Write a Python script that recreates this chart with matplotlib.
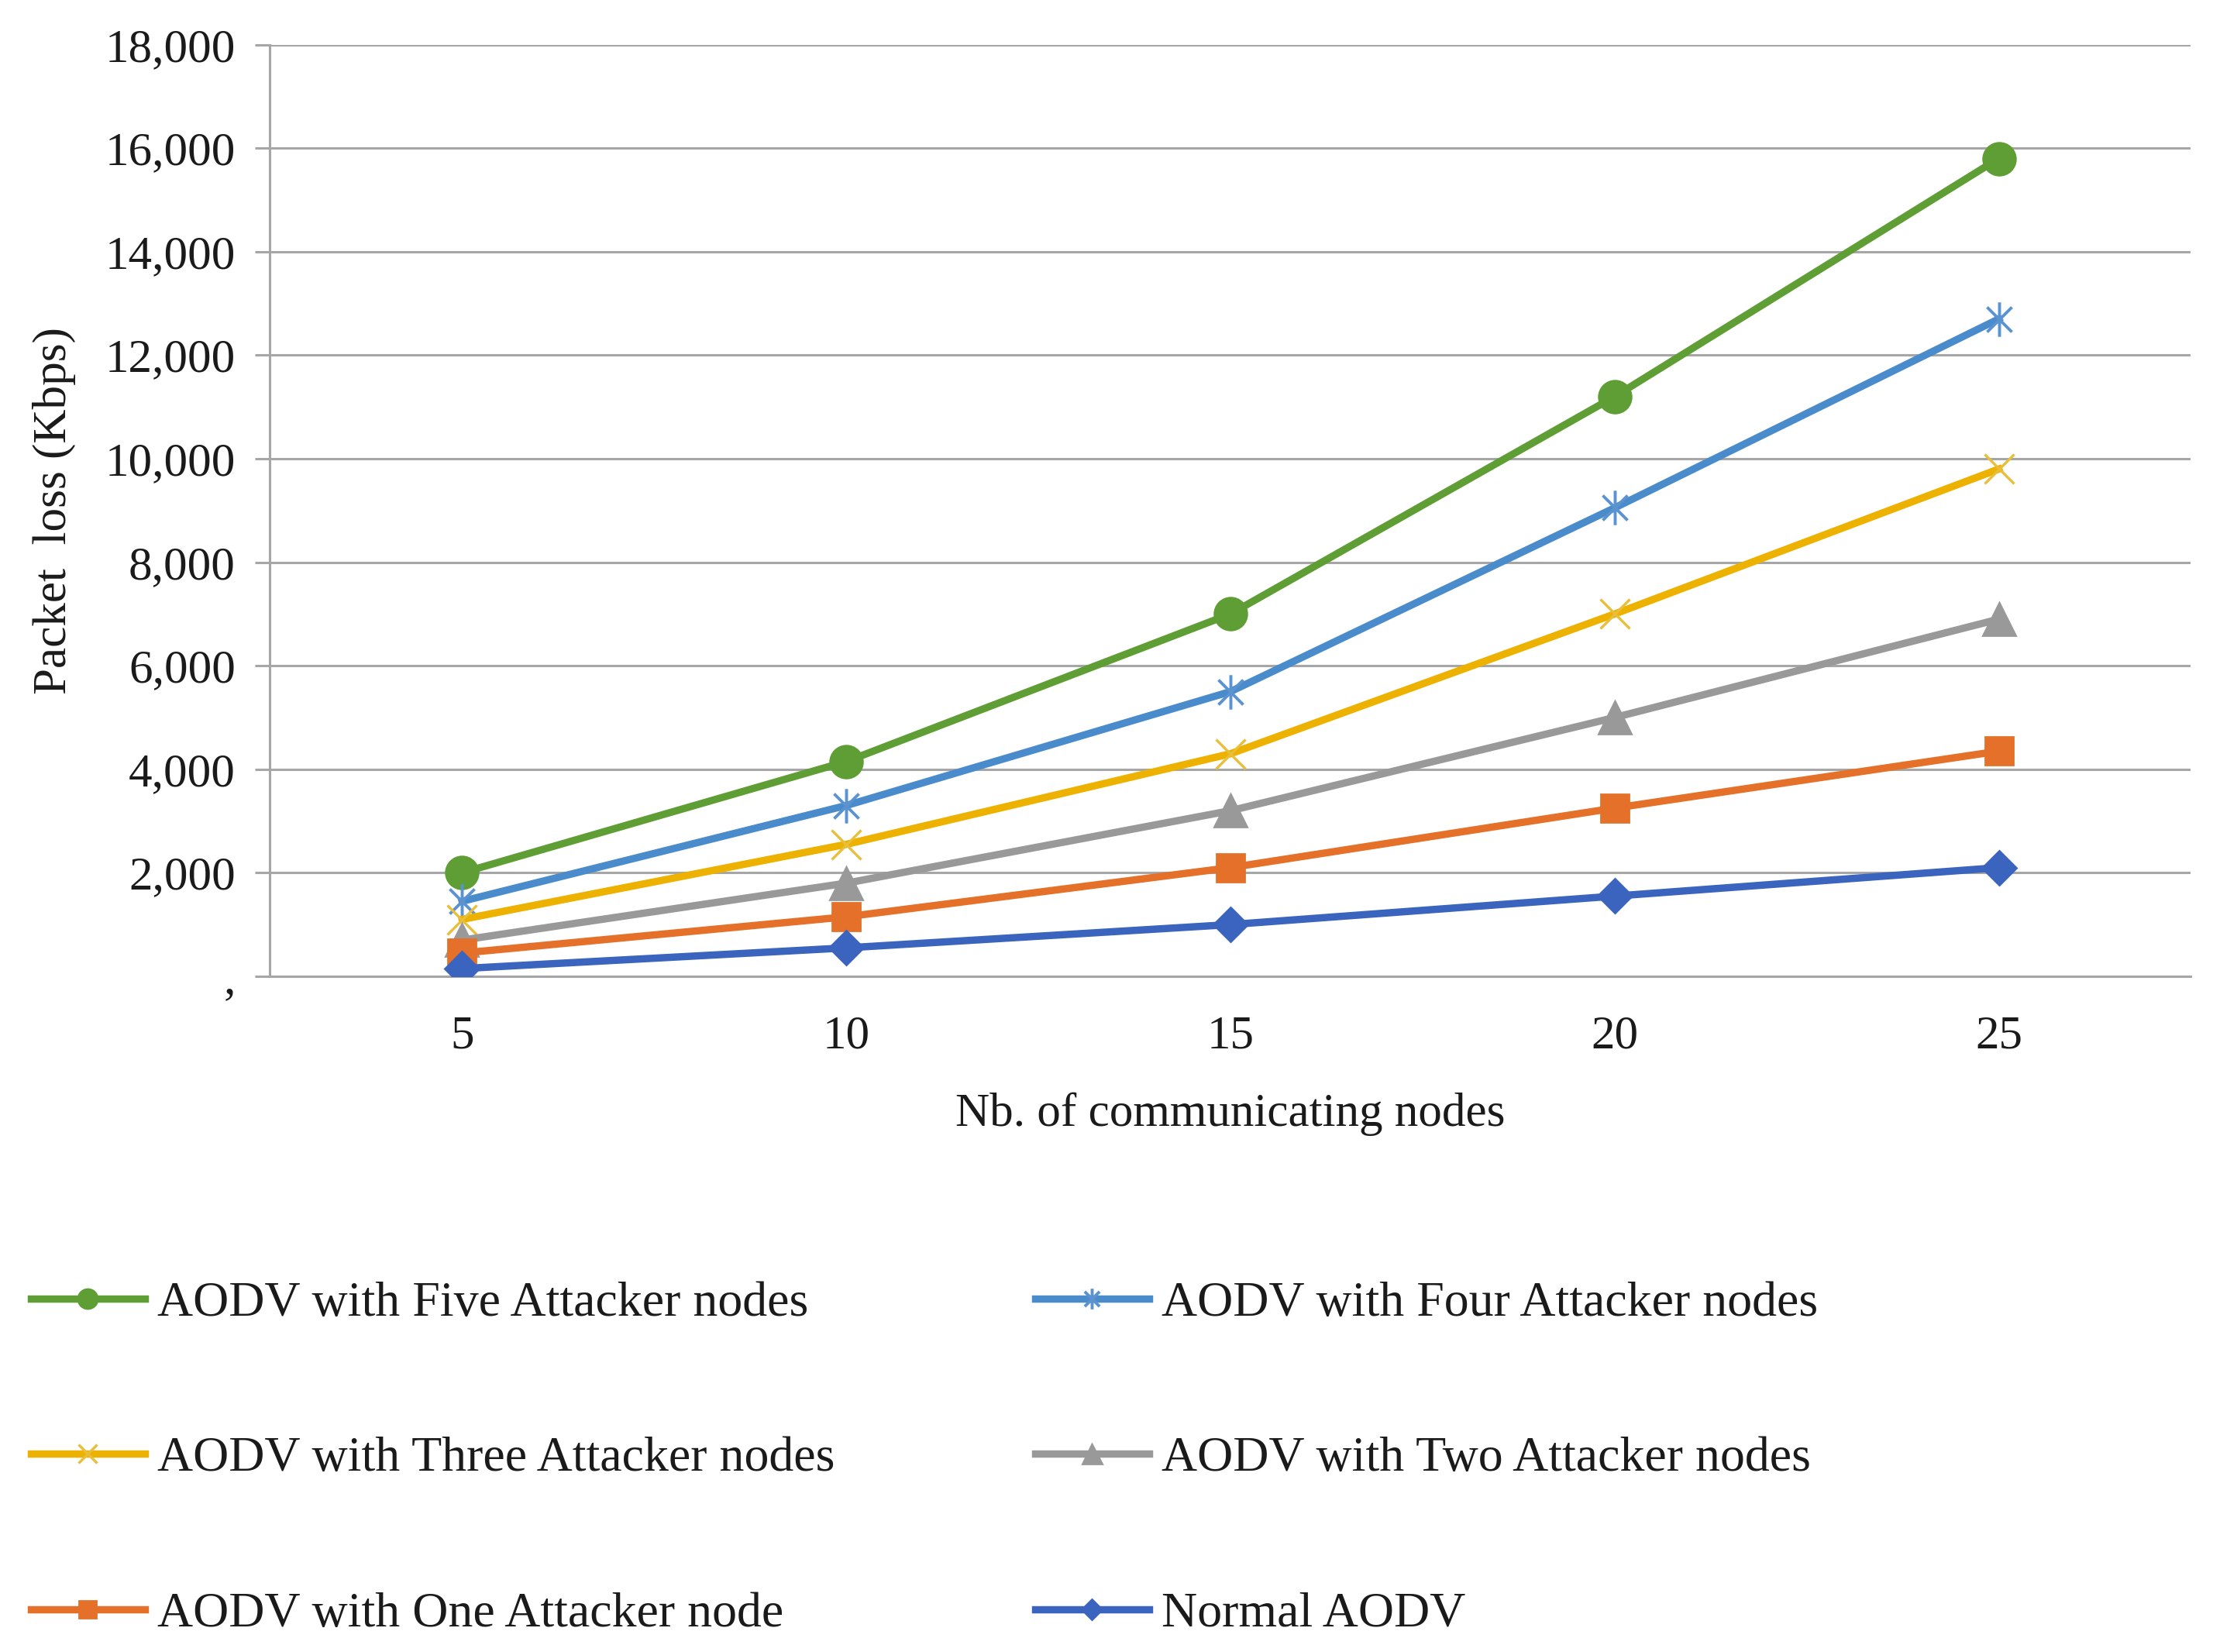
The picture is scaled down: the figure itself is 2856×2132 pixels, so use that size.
import matplotlib
matplotlib.use("Agg")
import matplotlib.pyplot as plt
from matplotlib.path import Path
from matplotlib.lines import Line2D
import numpy as np

# ---- data ----
nodes = [5, 10, 15, 20, 25]
five_attackers = [2000, 4150, 7000, 11200, 15800]
four_attackers = [1450, 3300, 5500, 9050, 12700]
three_attackers = [1100, 2550, 4300, 7000, 9800]
two_attackers = [700, 1800, 3200, 5000, 6900]
one_attacker = [450, 1150, 2100, 3250, 4350]
normal_aodv = [150, 550, 1000, 1550, 2100]

labels = ["AODV with Five Attacker nodes", "AODV with Four Attacker nodes",
          "AODV with Three Attacker nodes", "AODV with Two Attacker nodes",
          "AODV with One Attacker node", "Normal AODV"]
y_ticks = [0, 2000, 4000, 6000, 8000, 10000, 12000, 14000, 16000, 18000]
y_tick_labels = [",", "2,000", "4,000", "6,000", "8,000", "10,000", "12,000",
                 "14,000", "16,000", "18,000"]
x_label = "Nb. of communicating nodes"
y_label = "Packet  loss (Kbps)"

plt.rcParams['font.family'] = ['Liberation Serif', 'DejaVu Serif']

fig = plt.figure(figsize=(14.28, 10.66), dpi=200)
ax = fig.add_axes([0.122, 0.409, 0.868, 0.564])

star_path = Path(
    [(0, -1), (0, 1), (-0.72, -0.72), (0.72, 0.72), (-0.72, 0.72), (0.72, -0.72)],
    [Path.MOVETO, Path.LINETO, Path.MOVETO, Path.LINETO, Path.MOVETO, Path.LINETO])

lw = 3.4
series = [
    (five_attackers, dict(color="#5F9E34", marker="o", markersize=15, mfc="#5F9E34", mec="#5F9E34")),
    (four_attackers, dict(color="#4A8CCB", marker=star_path, markersize=16, mfc="none", mec="#5B93D0", mew=1.4)),
    (three_attackers, dict(color="#EDB100", marker="x", markersize=14, mec="#E8BE3A", mew=1.2)),
    (two_attackers, dict(color="#999999", marker="^", markersize=15, mfc="#999999", mec="#999999")),
    (one_attacker, dict(color="#E5702A", marker="s", markersize=13, mfc="#E5702A", mec="#E5702A")),
    (normal_aodv, dict(color="#3A64BE", marker="D", markersize=11, mfc="#3A64BE", mec="#3A64BE")),
]
handles = []
for (vals, st), lab in zip(series, labels):
    ax.plot(nodes, vals, linewidth=lw, label=lab, zorder=3, **st)
    st2 = dict(st)
    st2["markersize"] = st["markersize"] * 0.6
    handles.append(Line2D([], [], linewidth=lw, **st2))

ax.set_xlim(2.5, 27.5)
ax.set_ylim(0, 18000)
ax.set_yticks(y_ticks)
ax.set_yticklabels(y_tick_labels)
ax.set_xticks(nodes)
ax.set_xticklabels([str(n) for n in nodes])

grid_c = "#A6A6A6"
ax.yaxis.grid(True, color=grid_c, linewidth=1.1, zorder=0)
ax.set_axisbelow(True)
for s in ["top", "right"]:
    ax.spines[s].set_visible(False)
ax.spines["left"].set_color(grid_c)
ax.spines["left"].set_linewidth(1.1)
ax.spines["bottom"].set_color(grid_c)
ax.spines["bottom"].set_linewidth(1.1)

ax.tick_params(axis="y", direction="out", length=7, width=1.1, color=grid_c,
               labelsize=22, pad=9, labelcolor="#1a1a1a")
ax.tick_params(axis="x", length=0, labelsize=22, pad=18, labelcolor="#1a1a1a")

ax.set_xlabel(x_label, fontsize=22, labelpad=16, color="#1a1a1a")
fig.text(0.0244, 0.691, y_label, rotation=90, ha="center", va="center",
         fontsize=22, color="#1a1a1a")

order = [0, 2, 4, 1, 3, 5]
leg = fig.legend([handles[i] for i in order], [labels[i] for i in order],
                 ncol=2, loc="upper left", bbox_to_anchor=(0.014, 0.2246),
                 frameon=False, fontsize=23, handlelength=2.3, handletextpad=0.25,
                 labelspacing=2.22, columnspacing=4.05, borderpad=0, borderaxespad=0)
for t in leg.get_texts():
    t.set_color("#1a1a1a")

fig.savefig("out.png", dpi=200)
